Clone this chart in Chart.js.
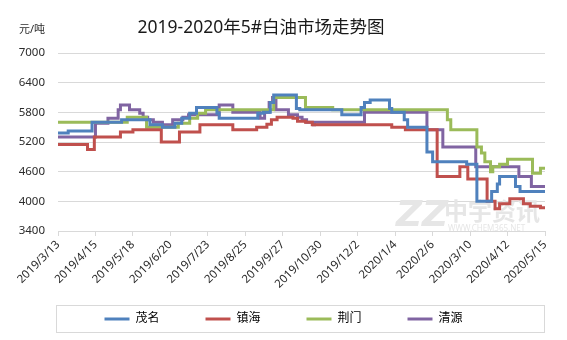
<!DOCTYPE html>
<html lang="zh-CN">
<head>
<meta charset="utf-8">
<title>2019-2020年5#白油市场走势图</title>
<script src="https://cdn.jsdelivr.net/npm/chart.js@4.4.1/dist/chart.umd.min.js"></script>
<style>
  html, body { margin: 0; padding: 0; background: #fff; }
</style>
</head>
<body>
<canvas id="oilChart" width="567" height="340"></canvas>
<script>
// x axis = days since 2019/3/13, one label every 33 days
const tickLabels = ['2019/3/13', '2019/4/15', '2019/5/18', '2019/6/20', '2019/7/23',
  '2019/8/25', '2019/9/27', '2019/10/30', '2019/12/2', '2020/1/4', '2020/2/6',
  '2020/3/10', '2020/4/12', '2020/5/15'];
const tickStep = 33;

const seriesNames = ['茂名', '镇海', '荆门', '清源'];

// prices in 元/吨, only the days a price changed (plus the last day)
const maomingDays = [0, 9, 30, 56, 81, 92, 103, 109, 116, 122, 140, 142, 176, 181, 187, 190,
  210, 213, 250, 267, 270, 275, 292, 294, 305, 308, 325, 330, 360, 369, 382, 387, 389, 403, 407, 429];
const maomingPrices = [5380, 5420, 5600, 5650, 5550, 5500, 5580, 5680, 5780, 5900, 5780, 5680, 5780, 5800, 6000, 6150,
  5880, 5850, 5750, 5900, 6000, 6050, 5880, 5800, 5650, 5500, 5000, 4800, 4750, 4000, 4200, 4350, 4500, 4300, 4200, 4200];

const zhenhaiDays = [0, 26, 32, 55, 66, 91, 107, 125, 154, 175, 184, 188, 193, 207, 211, 218, 224,
  294, 306, 334, 354, 361, 378, 385, 389, 398, 410, 416, 425, 429];
const zhenhaiPrices = [5150, 5050, 5300, 5400, 5450, 5200, 5400, 5550, 5450, 5500, 5560, 5650, 5700, 5680, 5620, 5600, 5550,
  5500, 5450, 4500, 4700, 4450, 4000, 3850, 3950, 4050, 3950, 3900, 3870, 3870];

const jingmenDays = [0, 61, 78, 106, 116, 123, 130, 190, 218, 242, 343, 346, 369, 373, 376, 381, 383,
  389, 396, 418, 425, 429];
const jingmenPrices = [5600, 5700, 5500, 5580, 5680, 5780, 5850, 6100, 5900, 5850, 5650, 5450, 5100, 4980, 4800, 4600, 4700,
  4750, 4850, 4570, 4670, 4670];

const qingyuanDays = [0, 33, 44, 53, 55, 63, 72, 75, 79, 84, 92, 101, 110, 115, 142, 154, 178, 182, 186, 189,
  192, 203, 211, 215, 219, 225, 226, 270, 325, 339, 368, 406, 417, 429];
const qingyuanPrices = [5300, 5580, 5680, 5850, 5950, 5850, 5780, 5700, 5650, 5600, 5550, 5650, 5700, 5750, 5950, 5800, 5680, 5800, 6000, 6100,
  5850, 5750, 5700, 5650, 5600, 5550, 5600, 5800, 5450, 5100, 4700, 4500, 4300, 4300];

const yMin = 3400;
const yMax = 7000;
const yStep = 600;

const colors = ['#4f81bd', '#c0504d', '#9bbb59', '#8064a2'];
const baseFont = "'Noto Sans', 'Noto Sans CJK SC', sans-serif";
const textColor = '#2b2b2b';

function toPoints(days, prices) {
  return days.map((d, i) => ({ x: d, y: prices[i] }));
}

const seriesData = [
  toPoints(maomingDays, maomingPrices),
  toPoints(zhenhaiDays, zhenhaiPrices),
  toPoints(jingmenDays, jingmenPrices),
  toPoints(qingyuanDays, qingyuanPrices)
];

// title, unit label, watermark and the frame round the legend
const decorations = {
  id: 'decorations',
  beforeDatasetsDraw(chart) {
    const ctx = chart.ctx;
    ctx.save();
    ctx.fillStyle = '#e6e6e6';
    ctx.textBaseline = 'alphabetic';
    ctx.font = "italic bold 36px 'DejaVu Sans'";
    ctx.fillText('ZZ', 396, 226);
    ctx.font = "bold 24px 'Noto Sans CJK SC'";
    ctx.fillText('中宇资讯', 444, 220);
    ctx.font = "8px 'Noto Sans'";
    ctx.fillText('WWW.CHEM365.NET', 448, 231);
    ctx.restore();
  },
  afterDraw(chart) {
    const ctx = chart.ctx;
    const lg = chart.legend;
    ctx.save();
    ctx.fillStyle = '#1a1a1a';
    ctx.textAlign = 'center';
    ctx.textBaseline = 'middle';
    ctx.font = "17.5px " + baseFont;
    ctx.fillText('2019-2020年5#白油市场走势图', 261, 28);
    ctx.textAlign = 'left';
    ctx.fillStyle = textColor;
    ctx.font = "11px " + baseFont;
    ctx.fillText('元/吨', 19, 30);
    ctx.strokeStyle = '#d9d9d9';
    ctx.lineWidth = 1;
    ctx.strokeRect(Math.round(lg.left) - 1.5, Math.round(lg.top) + 2.5, Math.round(lg.width) + 1, Math.round(lg.height) - 5);
    ctx.restore();
  }
};

new Chart(document.getElementById('oilChart'), {
  type: 'line',
  data: {
    datasets: seriesNames.map((name, i) => ({
      label: name,
      data: seriesData[i],
      borderColor: colors[i],
      backgroundColor: colors[i],
      borderWidth: 3,
      stepped: true,
      pointRadius: 0,
      fill: false
    }))
  },
  options: {
    responsive: false,
    animation: false,
    devicePixelRatio: 1,
    layout: { padding: { top: 53, right: 22, bottom: 5, left: 0 } },
    scales: {
      x: {
        type: 'linear',
        min: 0,
        max: tickStep * (tickLabels.length - 1),
        afterFit(scale) { scale.height = 72; },
        grid: { drawOnChartArea: false, color: '#d9d9d9', tickLength: 5 },
        border: { color: '#d9d9d9' },
        ticks: {
          stepSize: tickStep,
          autoSkip: false,
          maxRotation: 45,
          minRotation: 45,
          padding: 2,
          color: textColor,
          font: { family: baseFont, size: 11.5 },
          callback: (v) => tickLabels[Math.round(v / tickStep)]
        }
      },
      y: {
        min: yMin,
        max: yMax,
        afterFit(scale) { scale.width = 58; },
        grid: { color: '#d9d9d9', drawTicks: false },
        border: { display: false },
        ticks: {
          stepSize: yStep,
          padding: 13,
          color: textColor,
          font: { family: baseFont, size: 11.5 },
          callback: (v) => String(v)
        }
      }
    },
    plugins: {
      legend: {
        position: 'bottom',
        fullSize: false,
        labels: {
          boxWidth: 25,
          boxHeight: 3,
          padding: 10,
          color: textColor,
          font: { family: baseFont, size: 12 },
          generateLabels(chart) {
            // trailing full-width spaces keep the items 100px apart
            return chart.data.datasets.map((ds, i) => ({
              text: ds.label + '\u3000\u3000\u3000',
              fillStyle: ds.borderColor,
              strokeStyle: ds.borderColor,
              lineWidth: 0,
              datasetIndex: i,
              hidden: false
            }));
          }
        }
      },
      tooltip: { enabled: false }
    }
  },
  plugins: [decorations]
});
</script>
</body>
</html>
